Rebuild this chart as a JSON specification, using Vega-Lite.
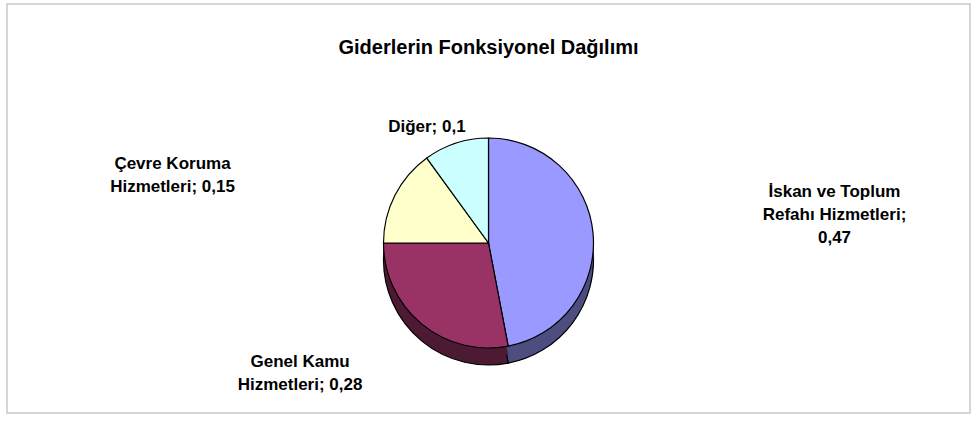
{
  "$schema": "https://vega.github.io/schema/vega-lite/v6.json",
  "width": 963,
  "height": 409,
  "autosize": "none",
  "padding": {"left": 7, "top": 4, "right": 8, "bottom": 9},
  "background": "white",
  "config": {
    "view": {"stroke": null},
    "font": "Liberation Sans"
  },
  "title": {
    "text": "Giderlerin Fonksiyonel Dağılımı",
    "font": "Liberation Sans",
    "fontSize": 20,
    "fontWeight": "bold",
    "color": "black",
    "anchor": "middle",
    "baseline": "middle",
    "offset": -65
  },
  "data": {
    "values": [
      {"kategori": "İskan ve Toplum Refahı Hizmetleri", "deger": 0.47, "sira": 1, "etiket": ["İskan ve Toplum", "Refahı Hizmetleri;", "0,47"]},
      {"kategori": "Genel Kamu Hizmetleri", "deger": 0.28, "sira": 2, "etiket": ["Genel Kamu", "Hizmetleri; 0,28"]},
      {"kategori": "Çevre Koruma Hizmetleri", "deger": 0.15, "sira": 3, "etiket": ["Çevre Koruma", "Hizmetleri; 0,15"]},
      {"kategori": "Diğer", "deger": 0.1, "sira": 4, "etiket": ["Diğer; 0,1"]}
    ]
  },
  "transform": [
    {"stack": "deger", "groupby": [], "sort": [{"field": "sira", "order": "ascending"}], "as": ["t0", "t1"]}
  ],
  "layer": [
    {
      "data": {"values": [{"cerceve": 1}]},
      "transform": [],
      "mark": {"type": "rect", "fill": "white", "stroke": "#c8c8c8", "strokeWidth": 1.5},
      "encoding": {}
    },
    {
      "mark": {"type": "arc", "radius": 105, "yOffset": 51.5, "stroke": "black", "strokeWidth": 1.2},
      "encoding": {
        "theta": {"field": "t0", "type": "quantitative", "scale": {"domain": [0, 1]}},
        "theta2": {"field": "t1"},
        "color": {
          "field": "kategori", "type": "nominal", "legend": null,
          "scale": {
            "domain": ["İskan ve Toplum Refahı Hizmetleri", "Genel Kamu Hizmetleri", "Çevre Koruma Hizmetleri", "Diğer"],
            "range": ["#4d4d80", "#4d1a33", "#80806a", "#6a8080"]
          }
        }
      }
    },
    {
      "mark": {"type": "arc", "radius": 105, "yOffset": 43, "strokeWidth": 0},
      "encoding": {
        "theta": {"field": "t0", "type": "quantitative", "scale": {"domain": [0, 1]}},
        "theta2": {"field": "t1"},
        "color": {
          "field": "kategori", "type": "nominal", "legend": null,
          "scale": {
            "domain": ["İskan ve Toplum Refahı Hizmetleri", "Genel Kamu Hizmetleri", "Çevre Koruma Hizmetleri", "Diğer"],
            "range": ["#4d4d80", "#4d1a33", "#80806a", "#6a8080"]
          }
        }
      }
    },
    {
      "mark": {"type": "arc", "radius": 105, "yOffset": 34.5, "stroke": "black", "strokeWidth": 1.2},
      "encoding": {
        "theta": {"field": "t0", "type": "quantitative", "scale": {"domain": [0, 1]}},
        "theta2": {"field": "t1"},
        "fill": {
          "field": "kategori", "type": "nominal", "legend": null,
          "scale": {
            "domain": ["İskan ve Toplum Refahı Hizmetleri", "Genel Kamu Hizmetleri", "Çevre Koruma Hizmetleri", "Diğer"],
            "range": ["#9999ff", "#993366", "#ffffcc", "#ccffff"]
          }
        }
      }
    },
    {
      "transform": [{"filter": "datum.sira == 1"}],
      "mark": {"type": "text", "radius": 115, "dx": 346, "dy": 98, "fontSize": 17, "fontWeight": "bold", "align": "center", "baseline": "middle", "lineHeight": 23, "color": "black"},
      "encoding": {
        "theta": {"field": "t0", "type": "quantitative", "scale": {"domain": [0, 1]}},
        "text": {"field": "etiket"}
      }
    },
    {
      "transform": [{"filter": "datum.sira == 2"}],
      "mark": {"type": "text", "radius": 115, "dx": -210, "dy": 41, "fontSize": 17, "fontWeight": "bold", "align": "center", "baseline": "middle", "lineHeight": 23, "color": "black"},
      "encoding": {
        "theta": {"field": "t0", "type": "quantitative", "scale": {"domain": [0, 1]}},
        "text": {"field": "etiket"}
      }
    },
    {
      "transform": [{"filter": "datum.sira == 3"}],
      "mark": {"type": "text", "radius": 115, "dx": -201, "dy": -45, "fontSize": 17, "fontWeight": "bold", "align": "center", "baseline": "middle", "lineHeight": 23, "color": "black"},
      "encoding": {
        "theta": {"field": "t0", "type": "quantitative", "scale": {"domain": [0, 1]}},
        "text": {"field": "etiket"}
      }
    },
    {
      "transform": [{"filter": "datum.sira == 4"}],
      "mark": {"type": "text", "radius": 115, "dx": 6, "dy": 12, "fontSize": 17, "fontWeight": "bold", "align": "center", "baseline": "middle", "lineHeight": 23, "color": "black"},
      "encoding": {
        "theta": {"field": "t0", "type": "quantitative", "scale": {"domain": [0, 1]}},
        "text": {"field": "etiket"}
      }
    }
  ],
  "resolve": {"scale": {"color": "independent"}}
}
